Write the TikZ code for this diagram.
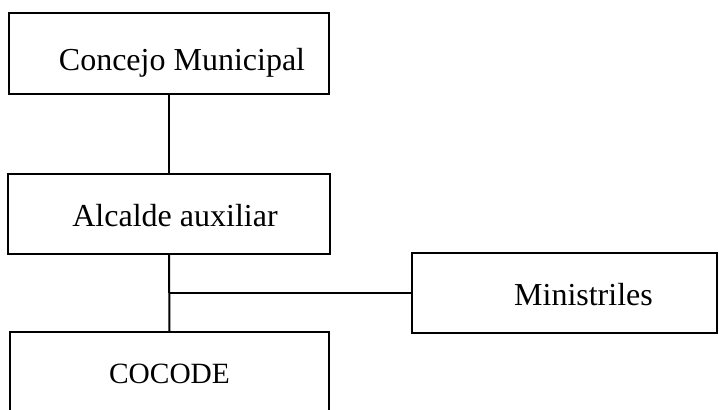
\documentclass[tikz,border=0pt]{standalone}
\usepackage{fontspec}
\setmainfont{Liberation Serif}
\usetikzlibrary{positioning}

\tikzset{
  orgbox/.style={draw, line width=1pt, inner sep=0pt},
  orgtext/.style={font=\fontsize{16}{19}\selectfont},
  orgline/.style={line width=1pt}
}

\begin{document}
\begin{tikzpicture}[x=0.5pt,y=-0.5pt]
      \useasboundingbox (0,0) rectangle (719,409);

      \node[orgbox, minimum width=160pt, minimum height=40.5pt,
            label={[orgtext, xshift=6.5pt, yshift=-4.5pt]center:Concejo Municipal}]
            (concejo) at (169,53.5) {};
      \node[orgbox, minimum width=161pt, minimum height=40pt,
            label={[orgtext, xshift=3pt, yshift=-1pt]center:Alcalde auxiliar}]
            (alcalde) at (169,214) {};
      \node[orgbox, minimum width=159.5pt, minimum height=42pt,
            label={[font=\fontsize{14.7}{17}\selectfont, yshift=0pt]center:COCODE}]
            (cocode) at (169.5,374) {};
      \node[orgbox, minimum width=152.5pt, minimum height=40pt,
            label={[orgtext, xshift=9.5pt, yshift=-1pt]center:Ministriles}]
            (ministriles) at (564.5,293) {};

      \draw[orgline] (concejo.south) -- (alcalde.north);
      \draw[orgline] (alcalde.south) -- (cocode.north);
      \draw[orgline] (ministriles.west) -- (ministriles.west -| alcalde.south);
    \end{tikzpicture}
\end{document}
